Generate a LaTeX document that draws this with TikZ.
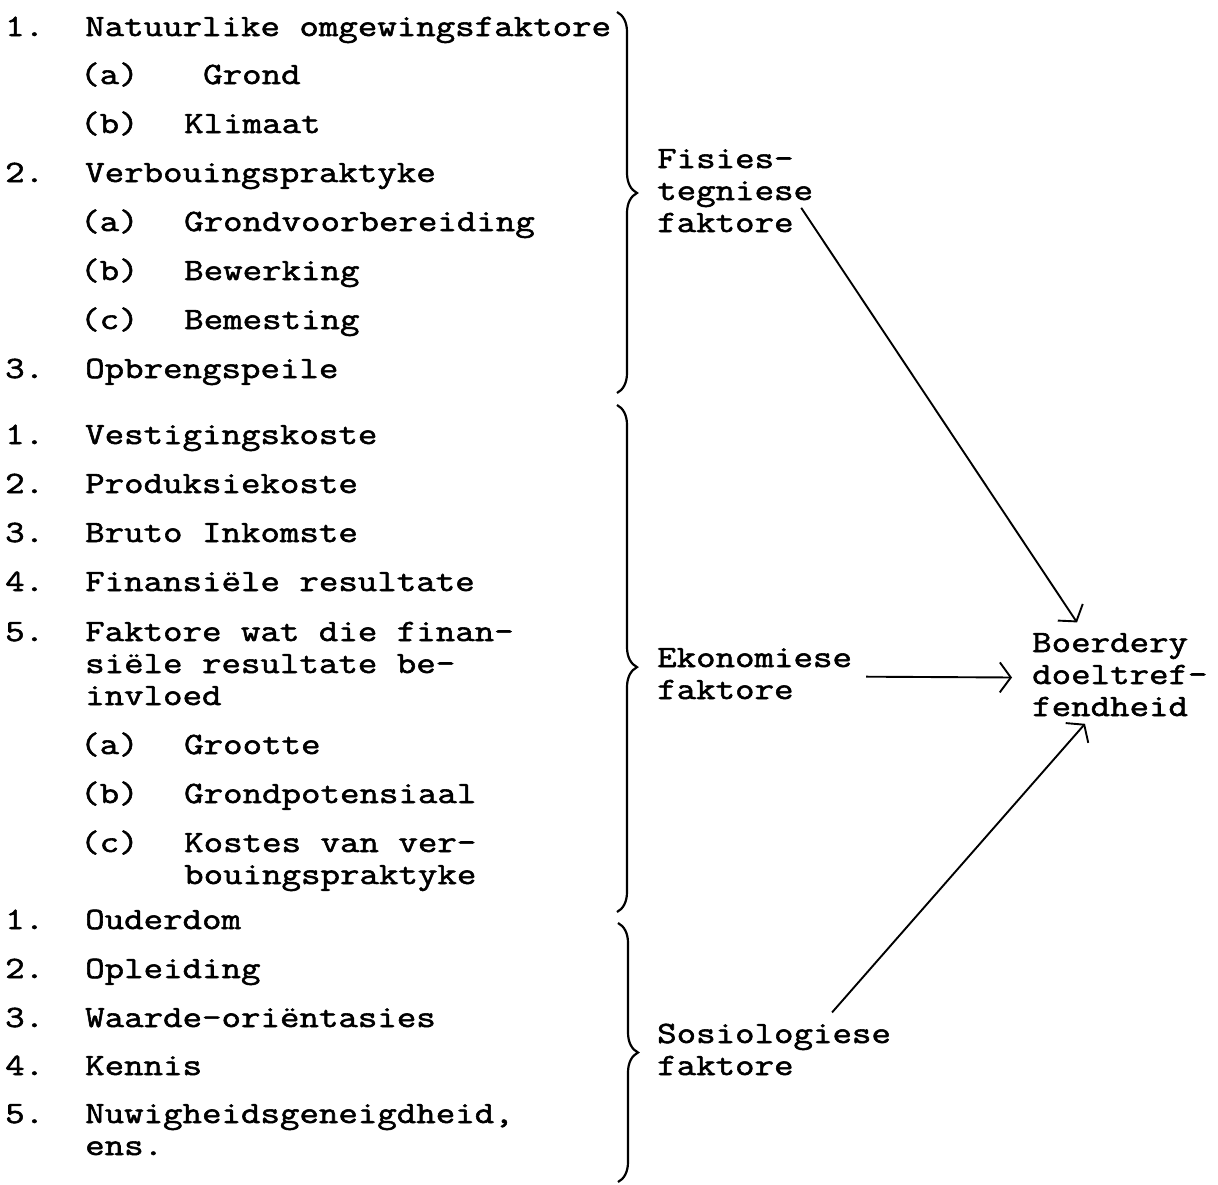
\documentclass[tikz,border=0pt]{standalone}
\usepackage{fontspec}
\setmonofont{Latin Modern Mono}[FakeStretch=1.22, FakeBold=1.8]
\usepackage{tikz}
\usetikzlibrary{arrows.meta,decorations.pathreplacing,calc}

\newcommand{\tw}{\ttfamily\fontsize{31}{32}\selectfont}
\newcommand{\stacked}[1]{\begin{tabular}[t]{@{}l@{}}#1\end{tabular}}

\begin{document}
\begin{tikzpicture}[
  x=1pt, y=-1pt,
  font=\tw,
  typed/.style={anchor=base west, inner sep=0pt},
  brc/.style={decorate, decoration={brace, amplitude=20pt, aspect=#1}, line width=2.2pt},
  link/.style={-{Straight Barb[length=11pt,width=30pt]}, line width=1.9pt}
]
  \useasboundingbox (0,0) rectangle (1218,1184);

  % Fisies-tegniese faktore
  \node[typed] (fis1n) at (5,36) {1.};
  \node[typed] (fis1) at (85,36) {Natuurlike omgewingsfaktore};
  \node[typed] (fis1an) at (80,84) {(a)};
  \node[typed] (fis1a) at (203,84) {Grond};
  \node[typed] (fis1bn) at (80,133) {(b)};
  \node[typed] (fis1b) at (184,133) {Klimaat};
  \node[typed] (fis2n) at (5,182) {2.};
  \node[typed] (fis2) at (85,182) {Verbouingspraktyke};
  \node[typed] (fis2an) at (80,231) {(a)};
  \node[typed] (fis2a) at (184,231) {Grondvoorbereiding};
  \node[typed] (fis2bn) at (80,280) {(b)};
  \node[typed] (fis2b) at (184,280) {Bewerking};
  \node[typed] (fis2cn) at (80,329) {(c)};
  \node[typed] (fis2c) at (184,329) {Bemesting};
  \node[typed] (fis3n) at (5,378) {3.};
  \node[typed] (fis3) at (85,378) {Opbrengspeile};

  % Ekonomiese faktore
  \node[typed] (eko1n) at (5,444) {1.};
  \node[typed] (eko1) at (85,444) {Vestigingskoste};
  \node[typed] (eko2n) at (5,493) {2.};
  \node[typed] (eko2) at (85,493) {Produksiekoste};
  \node[typed] (eko3n) at (5,542) {3.};
  \node[typed] (eko3) at (85,542) {Bruto Inkomste};
  \node[typed] (eko4n) at (5,591) {4.};
  \node[typed] (eko4) at (85,591) {Finansiële resultate};
  \node[typed] (eko5n) at (5,641) {5.};
  \node[typed] (eko5) at (85,641) {\stacked{Faktore wat die finan-\\siële resultate be-\\invloed}};
  \node[typed] (eko5an) at (80,754) {(a)};
  \node[typed] (eko5a) at (184,754) {Grootte};
  \node[typed] (eko5bn) at (80,803) {(b)};
  \node[typed] (eko5b) at (184,803) {Grondpotensiaal};
  \node[typed] (eko5cn) at (80,852) {(c)};
  \node[typed] (eko5c) at (184,852) {\stacked{Kostes van ver-\\bouingspraktyke}};

  % Sosiologiese faktore
  \node[typed] (sos1n) at (5,929) {1.};
  \node[typed] (sos1) at (85,929) {Ouderdom};
  \node[typed] (sos2n) at (5,978) {2.};
  \node[typed] (sos2) at (85,978) {Opleiding};
  \node[typed] (sos3n) at (5,1027) {3.};
  \node[typed] (sos3) at (85,1027) {Waarde-oriëntasies};
  \node[typed] (sos4n) at (5,1075) {4.};
  \node[typed] (sos4) at (85,1075) {Kennis};
  \node[typed] (sos5n) at (5,1123) {5.};
  \node[typed] (sos5) at (85,1123) {\stacked{Nuwigheidsgeneigdheid,\\ens.}};

  % Braces
  \draw[brc=0.475] (617,12) -- (617,393);
  \draw[brc=0.517] (617,405) -- (617,912);
  \draw[brc=0.5] (618,923) -- (618,1182);

  % Group labels
  \node[typed] (fis) at (657,168) {\stacked{Fisies-\\tegniese\\faktore}};
  \node[typed] (eko) at (657,667) {\stacked{Ekonomiese\\faktore}};
  \node[typed] (sos) at (657,1043) {\stacked{Sosiologiese\\faktore}};
  \node[typed] (boer) at (1032,652) {\stacked{Boerdery\\doeltref-\\fendheid}};

  % Arrows
  \coordinate (fisout) at ($(fis.south east)+(-12,-34)$);
  \coordinate (boerin1) at ($(boer.north west)+(45,-7)$);
  \coordinate (sosout) at ($(sos.north)+(58,-8)$);
  \coordinate (boerin3) at ($(boer.south west)+(53,-2)$);
  \draw[link] (fisout) -- (boerin1);
  \draw[link, shorten <=14pt, shorten >=20pt] (eko.east) -- (boer.west);
  \draw[link] (sosout) -- (boerin3);

\end{tikzpicture}
\end{document}
